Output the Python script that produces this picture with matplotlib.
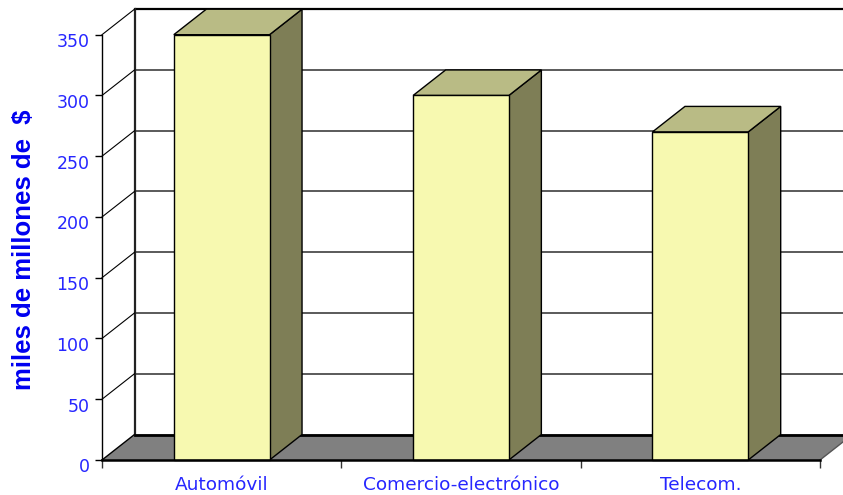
import matplotlib
matplotlib.use("Agg")
import matplotlib.pyplot as plt
from matplotlib.patches import Polygon
from matplotlib.transforms import ScaledTranslation

# Data
categories = ["Automóvil", "Comercio-electrónico", "Telecom."]
values = [350, 300, 270]
y_ticks = [0, 50, 100, 150, 200, 250, 300, 350]
y_label = "miles de millones de  $"

# Styling
FRONT = "#F7F9B0"
TOP = "#B9BB85"
SIDE = "#7E7E56"
FLOOR = "#808080"
GRID = "#5A5A5A"
TEXT_BLUE = "#2626FF"
LABEL_BLUE = "#0000F0"

W, H, DPI = 843, 495, 100
fig = plt.figure(figsize=(W / DPI, H / DPI), dpi=DPI)

# Axes covers the front plane of the 3-D box
left_px, right_px, bottom_px, top_px = 102, 820, 460, 34.7
ax = fig.add_axes([left_px / W, (H - bottom_px) / H,
                   (right_px - left_px) / W, (bottom_px - top_px) / H])
n = len(categories)
ymax = 350
ax.set_xlim(0, n)
ax.set_ylim(0, ymax)

# Depth offset of the box (in data units)
px_per_x = (right_px - left_px) / n
px_per_y = (bottom_px - top_px) / ymax
DX = 32.5 / px_per_x
DY = 25.5 / px_per_y
x_far = n + 0.3

# Back wall grid lines
for v in y_ticks[1:]:
    lc = "black" if v == ymax else GRID
    lw = 1.6 if v == ymax else 1.4
    ax.plot([DX, x_far], [v + DY, v + DY], color=lc, lw=lw,
            clip_on=False, zorder=1, solid_capstyle="butt")

# Left wall: back vertical edge and diagonals
ax.plot([DX, DX], [DY, ymax + DY], color="#222222", lw=1.6, clip_on=False, zorder=1)
for v in y_ticks[1:]:
    ax.plot([0, DX], [v, v + DY], color="black", lw=0.8, clip_on=False, zorder=1)

# Floor
floor = Polygon([(0, 0), (n, 0), (n + DX, DY), (x_far + DX, DY), (DX, DY)],
                closed=True, facecolor=FLOOR, edgecolor="none",
                clip_on=False, zorder=2)
ax.add_patch(floor)
ax.plot([DX, x_far], [DY, DY], color="black", lw=2.0, clip_on=False, zorder=2.5)
ax.plot([0, DX], [0, DY], color="black", lw=1.0, clip_on=False, zorder=2.5)
ax.plot([n, n + DX * 1.5], [0, DY * 1.5], color="#555555", lw=1.0, clip_on=False, zorder=2.5)

# Bars
bw = 0.40
for i, v in enumerate(values):
    x0 = i + 0.5 - bw / 2
    x1 = i + 0.5 + bw / 2
    front = Polygon([(x0, 0), (x1, 0), (x1, v), (x0, v)], closed=True,
                    facecolor=FRONT, edgecolor="black", lw=1.0, clip_on=False, zorder=3)
    top = Polygon([(x0, v), (x1, v), (x1 + DX, v + DY), (x0 + DX, v + DY)], closed=True,
                  facecolor=TOP, edgecolor="black", lw=1.0, clip_on=False, zorder=3)
    side = Polygon([(x1, 0), (x1 + DX, DY), (x1 + DX, v + DY), (x1, v)], closed=True,
                   facecolor=SIDE, edgecolor="black", lw=1.0, clip_on=False, zorder=3)
    for p in (side, top, front):
        ax.add_patch(p)

ax.set_facecolor("none")
for s in ("top", "right"):
    ax.spines[s].set_visible(False)
ax.spines["left"].set_color("black")
ax.spines["left"].set_linewidth(1.0)
ax.spines["bottom"].set_color("black")
ax.spines["bottom"].set_linewidth(1.8)
ax.spines["left"].set_zorder(4)
ax.spines["bottom"].set_zorder(4)

# Y axis ticks
ax.set_yticks(y_ticks)
ax.set_yticklabels([str(t) for t in y_ticks])
ax.tick_params(axis="y", direction="out", length=5, width=1, color="black",
               labelsize=12.5, labelcolor=TEXT_BLUE, pad=4)
shift = ScaledTranslation(0, -5.5 / DPI, fig.dpi_scale_trans)
for lab in ax.get_yticklabels():
    lab.set_transform(lab.get_transform() + shift)

# X axis: boundary ticks and centred category labels
ax.set_xticks(range(n + 1))
ax.set_xticklabels([""] * (n + 1))
ax.set_xticks([i + 0.5 for i in range(n)], minor=True)
ax.set_xticklabels(categories, minor=True)
ax.tick_params(axis="x", which="major", direction="out", length=6, width=1, color="#333333")
ax.tick_params(axis="x", which="minor", length=0, labelsize=13.3,
               labelcolor=TEXT_BLUE, pad=11.5)

fig.text(24 / W, 1 - 250 / H, y_label, rotation=90, ha="center", va="center",
         fontsize=18.5, fontweight="bold", color=LABEL_BLUE, family="Liberation Sans")

fig.savefig("out.png", dpi=DPI)
